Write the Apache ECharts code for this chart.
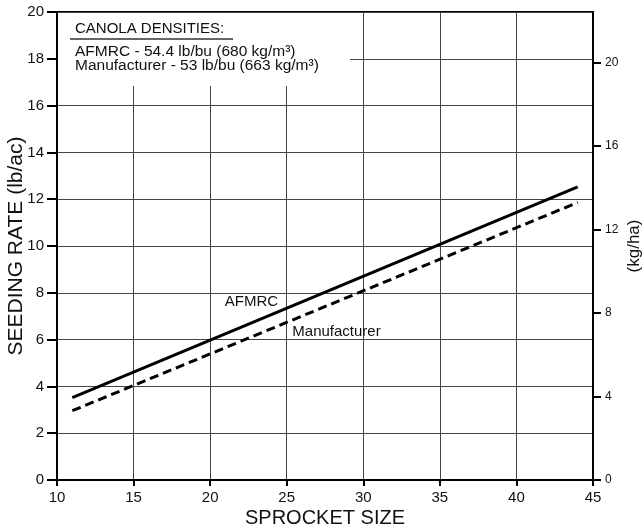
<!DOCTYPE html>
<html>
<head>
<meta charset="utf-8">
<script src="https://cdn.jsdelivr.net/npm/echarts@6/dist/echarts.min.js"></script>
<style>
  html, body { margin: 0; padding: 0; background: #fff; }
  #chart { width: 643px; height: 529px; }
</style>
</head>
<body>
<div id="chart"></div>
<script>
// sprocket size ends and seeding rate (lb/ac)
const sprocket = [11, 44];
const afmrc = [3.52, 12.53];
const manufacturer = [2.96, 11.86];

const lbacToKgha = 1.12085;
const font = 'Liberation Sans, Arial, sans-serif';

const chart = echarts.init(document.getElementById('chart'));

const toPairs = (ys) => sprocket.map((x, i) => [x, ys[i]]);

const option = {
  backgroundColor: '#fff',
  animation: false,
  grid: {
    left: 57, right: 50, top: 12, bottom: 49,
    outerBoundsMode: 'none',
    containLabel: false,
    show: true,
    borderColor: '#000',
    borderWidth: 2
  },
  xAxis: {
    type: 'value',
    min: 10, max: 45, interval: 5,
    name: 'SPROCKET SIZE',
    nameLocation: 'middle',
    nameMoveOverlap: false,
    nameGap: 28,
    nameTextStyle: { fontFamily: font, fontSize: 20, color: '#111' },
    axisLine: { show: true, lineStyle: { color: '#000', width: 2 } },
    axisTick: { show: true, inside: false, length: 6, lineStyle: { color: '#000', width: 2 } },
    axisLabel: { fontFamily: font, fontSize: 15, color: '#111', margin: 10 },
    splitLine: { show: true, lineStyle: { color: '#444', width: 1 } }
  },
  yAxis: [
    {
      type: 'value',
      min: 0, max: 20, interval: 2,
      name: 'SEEDING RATE (lb/ac)',
      nameLocation: 'middle',
      nameMoveOverlap: false,
      nameGap: 30,
      nameTextStyle: { fontFamily: font, fontSize: 21, color: '#111' },
      axisLine: { show: true, lineStyle: { color: '#000', width: 2 } },
      axisTick: { show: true, inside: false, length: 10, lineStyle: { color: '#000', width: 2 } },
      axisLabel: { fontFamily: font, fontSize: 15, color: '#111', margin: 13 },
      splitLine: { show: true, lineStyle: { color: '#444', width: 1 } }
    },
    {
      type: 'value',
      position: 'right',
      min: 0, max: 20 * lbacToKgha, interval: 4,
      name: '(kg/ha)',
      nameLocation: 'middle',
      nameMoveOverlap: false,
      nameGap: 33,
      nameRotate: 90,
      nameTextStyle: { fontFamily: font, fontSize: 17, color: '#111' },
      axisLine: { show: true, lineStyle: { color: '#000', width: 2 } },
      axisTick: { show: true, inside: false, length: 8, lineStyle: { color: '#000', width: 2 } },
      axisLabel: { fontFamily: font, fontSize: 12, color: '#111', margin: 12, showMaxLabel: false },
      splitLine: { show: false }
    }
  ],
  graphic: [
    {
      type: 'rect',
      shape: { x: 58, y: 13, width: 292, height: 73 },
      style: { fill: '#fff' },
      z: 5
    },
    {
      type: 'text',
      x: 75, y: 29,
      style: { text: 'CANOLA DENSITIES:', font: '15px ' + font, fill: '#111', verticalAlign: 'middle' },
      z: 6
    },
    {
      type: 'line',
      shape: { x1: 70, y1: 39, x2: 233, y2: 39 },
      style: { stroke: '#333', lineWidth: 1.5 },
      z: 6
    },
    {
      type: 'text',
      x: 75, y: 52,
      style: { text: 'AFMRC - 54.4 lb/bu (680 kg/m³)', font: '15.5px ' + font, fill: '#111', verticalAlign: 'middle' },
      z: 6
    },
    {
      type: 'text',
      x: 75, y: 66,
      style: { text: 'Manufacturer - 53 lb/bu (663 kg/m³)', font: '15.5px ' + font, fill: '#111', verticalAlign: 'middle' },
      z: 6
    }
  ],
  series: [
    {
      name: 'AFMRC',
      type: 'line',
      data: toPairs(afmrc),
      symbol: 'none',
      lineStyle: { color: '#000', width: 3 },
      markPoint: {
        symbol: 'circle', symbolSize: 0,
        label: { show: true, formatter: 'AFMRC', fontFamily: font, fontSize: 15, color: '#111' },
        data: [{ coord: [22.7, 7.6] }]
      }
    },
    {
      name: 'Manufacturer',
      type: 'line',
      data: toPairs(manufacturer),
      symbol: 'none',
      lineStyle: { color: '#000', width: 3, type: [9, 5] },
      markPoint: {
        symbol: 'circle', symbolSize: 0,
        label: { show: true, formatter: 'Manufacturer', fontFamily: font, fontSize: 15, color: '#111' },
        data: [{ coord: [28.25, 6.33] }]
      }
    }
  ]
};

chart.setOption(option);
window.addEventListener('resize', () => chart.resize());
</script>
</body>
</html>
